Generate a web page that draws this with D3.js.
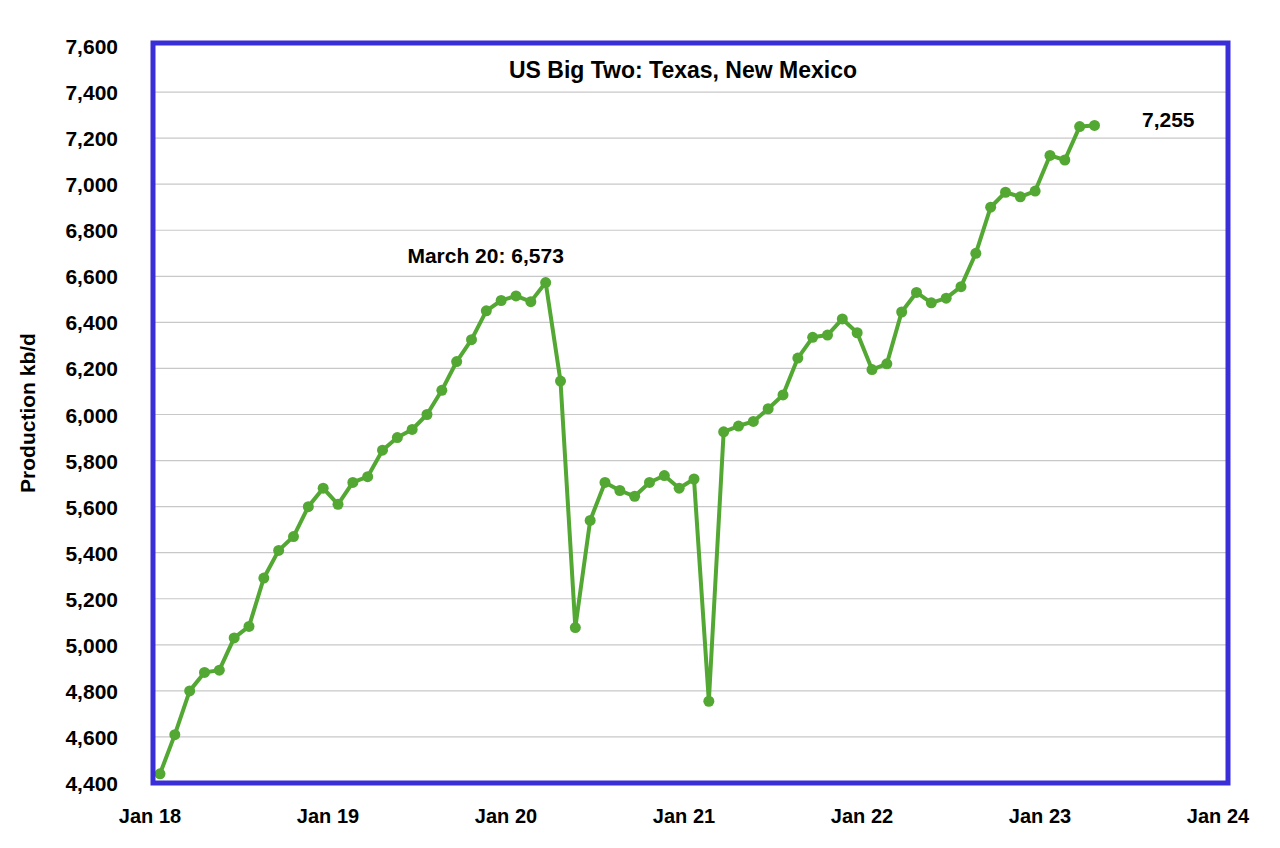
<!DOCTYPE html>
<html><head><meta charset="utf-8">
<script src="https://cdn.jsdelivr.net/npm/d3@7"></script>
<style>body{margin:0;background:#fff}text{font-family:"Liberation Sans",Arial,sans-serif;font-weight:bold}</style>
</head><body><svg id="c" width="1280" height="848"></svg>
<script>
const production = [
  4440, 4610, 4800, 4880, 4890, 5030, 5080, 5290, 5410, 5470, 5600, 5680,
  5610, 5705, 5730, 5845, 5900, 5935, 6000, 6105, 6230, 6325, 6450, 6495,
  6515, 6490, 6573, 6145, 5075, 5540, 5705, 5670, 5645, 5705, 5735, 5680,
  5720, 4755, 5925, 5950, 5970, 6025, 6085, 6245, 6335, 6345, 6415, 6355,
  6195, 6220, 6445, 6530, 6485, 6505, 6555, 6700, 6900, 6965, 6945, 6970,
  7125, 7105, 7250, 7255
];
const yearLabels = ["Jan 18", "Jan 19", "Jan 20", "Jan 21", "Jan 22", "Jan 23", "Jan 24"];
const yTicks = d3.range(4400, 7601, 200);

const frame = {left: 153, right: 1228, top: 43, bottom: 783};
const svg = d3.select("#c");
const x = d3.scaleLinear().domain([0, 72]).range([160, 1228]);
const y = d3.scaleLinear().domain([4400, 7600]).range([783, 46]);

// grid
svg.append("g").selectAll("line").data(yTicks.slice(1, -1)).join("line")
  .attr("x1", frame.left).attr("x2", frame.right)
  .attr("y1", d => y(d)).attr("y2", d => y(d))
  .attr("stroke", "#c8c8c8").attr("stroke-width", 1.2);

// y labels
svg.append("g").selectAll("text").data(yTicks).join("text")
  .attr("x", 118).attr("y", d => y(d) + 8).attr("text-anchor", "end")
  .attr("font-size", 21).text(d3.format(","));

// x labels
svg.append("g").selectAll("text").data(yearLabels).join("text")
  .attr("x", (d, i) => x(i * 12) - 10).attr("y", 823).attr("text-anchor", "middle")
  .attr("font-size", 20).text(d => d);

svg.append("text").attr("transform", "translate(35,413) rotate(-90)")
  .attr("text-anchor", "middle").attr("font-size", 21).text("Production kb/d");

// line
const line = d3.line().x((d, i) => x(i)).y(d => y(d));
svg.append("path").datum(production).attr("d", line)
  .attr("fill", "none").attr("stroke", "#53a833").attr("stroke-width", 4).attr("stroke-linejoin", "round");
svg.append("g").selectAll("circle").data(production).join("circle")
  .attr("cx", (d, i) => x(i)).attr("cy", d => y(d)).attr("r", 5.5).attr("fill", "#53a833");

// frame
svg.append("rect").attr("x", frame.left).attr("y", frame.top)
  .attr("width", frame.right - frame.left).attr("height", frame.bottom - frame.top)
  .attr("fill", "none").attr("stroke", "#3a2ed8").attr("stroke-width", 5);

svg.append("text").attr("x", 683).attr("y", 78).attr("text-anchor", "middle")
  .attr("font-size", 23).text("US Big Two: Texas, New Mexico");
svg.append("text").attr("x", x(26) - 60).attr("y", y(6573) - 20).attr("text-anchor", "middle")
  .attr("font-size", 21).text("March 20: 6,573");
svg.append("text").attr("x", 1142).attr("y", y(7255) + 2).attr("font-size", 21).text("7,255");
</script></body></html>
